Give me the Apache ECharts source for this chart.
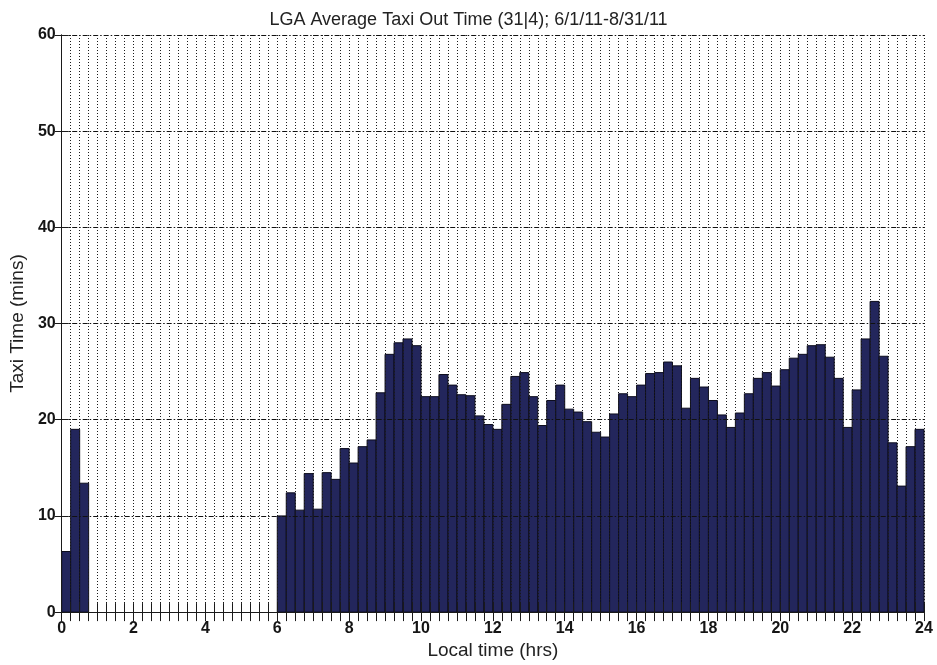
<!DOCTYPE html>
<html>
<head>
<meta charset="utf-8">
<title>LGA Average Taxi Out Time</title>
<script src="https://cdn.jsdelivr.net/npm/echarts@6/dist/echarts.min.js"></script>
<style>
  html, body { margin: 0; padding: 0; background: #fff; }
  #chart { width: 937px; height: 665px; }
</style>
</head>
<body>
<div id="chart"></div>
<script>
// 15-minute bins over the day (start hour of each bin)
const binHours = [
  0, 0.25, 0.5, 0.75, 1, 1.25, 1.5, 1.75, 2, 2.25, 2.5, 2.75,
  3, 3.25, 3.5, 3.75, 4, 4.25, 4.5, 4.75, 5, 5.25, 5.5, 5.75,
  6, 6.25, 6.5, 6.75, 7, 7.25, 7.5, 7.75, 8, 8.25, 8.5, 8.75,
  9, 9.25, 9.5, 9.75, 10, 10.25, 10.5, 10.75, 11, 11.25, 11.5, 11.75,
  12, 12.25, 12.5, 12.75, 13, 13.25, 13.5, 13.75, 14, 14.25, 14.5, 14.75,
  15, 15.25, 15.5, 15.75, 16, 16.25, 16.5, 16.75, 17, 17.25, 17.5, 17.75,
  18, 18.25, 18.5, 18.75, 19, 19.25, 19.5, 19.75, 20, 20.25, 20.5, 20.75,
  21, 21.25, 21.5, 21.75, 22, 22.25, 22.5, 22.75, 23, 23.25, 23.5, 23.75
];
const binWidth = 0.25;

// Average taxi-out time per bin (minutes)
const taxiOutMins = [
  6.3, 19.0, 13.4, 0, 0, 0, 0, 0, 0, 0, 0, 0,
  0, 0, 0, 0, 0, 0, 0, 0, 0, 0, 0, 0,
  10.0, 12.4, 10.6, 14.4, 10.7, 14.5, 13.8, 17.0, 15.5, 17.2, 17.9, 22.8,
  26.8, 28.0, 28.4, 27.7, 22.4, 22.4, 24.7, 23.6, 22.6, 22.5, 20.4, 19.5,
  19.0, 21.6, 24.5, 24.9, 22.4, 19.4, 22.0, 23.6, 21.1, 20.8, 19.8, 18.7,
  18.2, 20.6, 22.7, 22.4, 23.6, 24.8, 24.9, 26.0, 25.6, 21.2, 24.3, 23.4,
  22.0, 20.5, 19.2, 20.7, 22.7, 24.3, 24.9, 23.5, 25.2, 26.4, 26.8, 27.7,
  27.8, 26.5, 24.3, 19.2, 23.1, 28.4, 32.3, 26.6, 17.6, 13.1, 17.2, 19.0
];

// Axis ticks
const xLabelHours = [0, 2, 4, 6, 8, 10, 12, 14, 16, 18, 20, 22, 24];
const yTicks = [0, 10, 20, 30, 40, 50, 60];

const FONT = '"Liberation Sans", Arial, Helvetica, sans-serif';
const INK = '#1a1a1a';

const chart = echarts.init(document.getElementById('chart'), null, { renderer: 'canvas' });

const sharedX = {
  type: 'value',
  min: xLabelHours[0],
  max: xLabelHours[xLabelHours.length - 1],
  interval: binWidth,
  z: 10
};
const sharedY = {
  type: 'value',
  min: yTicks[0],
  max: yTicks[yTicks.length - 1],
  interval: yTicks[1] - yTicks[0],
  z: 10
};

chart.setOption({
  backgroundColor: '#ffffff',
  animation: false,
  title: {
    text: 'LGA Average Taxi Out Time (31|4); 6/1/11-8/31/11',
    left: 'center',
    top: 6,
    textStyle: { fontFamily: FONT, fontSize: 18, fontWeight: 'normal', color: '#222' }
  },
  grid: { left: 59, right: 13, top: 35, bottom: 49 },
  xAxis: [
    Object.assign({}, sharedX, {
      position: 'bottom',
      name: 'Local time (hrs)',
      nameLocation: 'middle',
      nameGap: 22,
      nameTextStyle: { fontFamily: FONT, fontSize: 19, color: '#222', verticalAlign: 'top' },
      axisLine: { show: true, lineStyle: { color: INK, width: 1 } },
      axisTick: { show: true, inside: true, length: 9, lineStyle: { color: INK, width: 1 } },
      axisLabel: {
        show: true,
        margin: 8,
        fontFamily: FONT,
        fontSize: 16,
        fontWeight: 'bold',
        color: '#151515',
        showMinLabel: true,
        showMaxLabel: true,
        formatter: function (v) {
          return xLabelHours.indexOf(Math.round(v * 100) / 100) >= 0 ? String(v) : '';
        }
      },
      splitLine: { show: true, lineStyle: { color: '#1a1a1a', width: 1, type: [1, 2] } }
    }),
    Object.assign({}, sharedX, {
      position: 'top',
      axisLine: { show: true, lineStyle: { color: INK, width: 1 } },
      axisTick: { show: true, inside: true, length: 9, lineStyle: { color: INK, width: 1 } },
      axisLabel: { show: false },
      splitLine: { show: false }
    })
  ],
  yAxis: [
    Object.assign({}, sharedY, {
      position: 'left',
      name: 'Taxi Time (mins)',
      nameLocation: 'middle',
      nameGap: 31,
      nameRotate: 90,
      nameTextStyle: { fontFamily: FONT, fontSize: 19, color: '#222' },
      axisLine: { show: true, lineStyle: { color: INK, width: 1 } },
      axisTick: { show: true, inside: true, length: 7, lineStyle: { color: INK, width: 1 } },
      axisLabel: {
        margin: 6,
        fontFamily: FONT,
        fontSize: 16,
        fontWeight: 'bold',
        color: '#151515'
      },
      splitLine: { show: true, lineStyle: { color: '#111', width: 1, type: [5, 2, 1.5, 2] } }
    }),
    Object.assign({}, sharedY, {
      position: 'right',
      axisLine: { show: true, lineStyle: { color: INK, width: 1 } },
      axisTick: { show: true, inside: true, length: 7, lineStyle: { color: INK, width: 1 } },
      axisLabel: { show: false },
      splitLine: { show: false }
    })
  ],
  series: [{
    type: 'custom',
    name: 'Taxi out time',
    xAxisIndex: 0,
    yAxisIndex: 0,
    z: 2,
    data: binHours.map(function (h, i) { return [h, taxiOutMins[i]]; }),
    renderItem: function (params, api) {
      const start = api.value(0);
      const val = api.value(1);
      if (!val) { return null; }
      const topLeft = api.coord([start, val]);
      const bottomRight = api.coord([start + binWidth, 0]);
      return {
        type: 'rect',
        shape: {
          x: topLeft[0],
          y: topLeft[1],
          width: bottomRight[0] - topLeft[0],
          height: bottomRight[1] - topLeft[1]
        },
        style: { fill: '#23265c', stroke: '#0d0d1e', lineWidth: 1 }
      };
    }
  }]
});
</script>
</body>
</html>
